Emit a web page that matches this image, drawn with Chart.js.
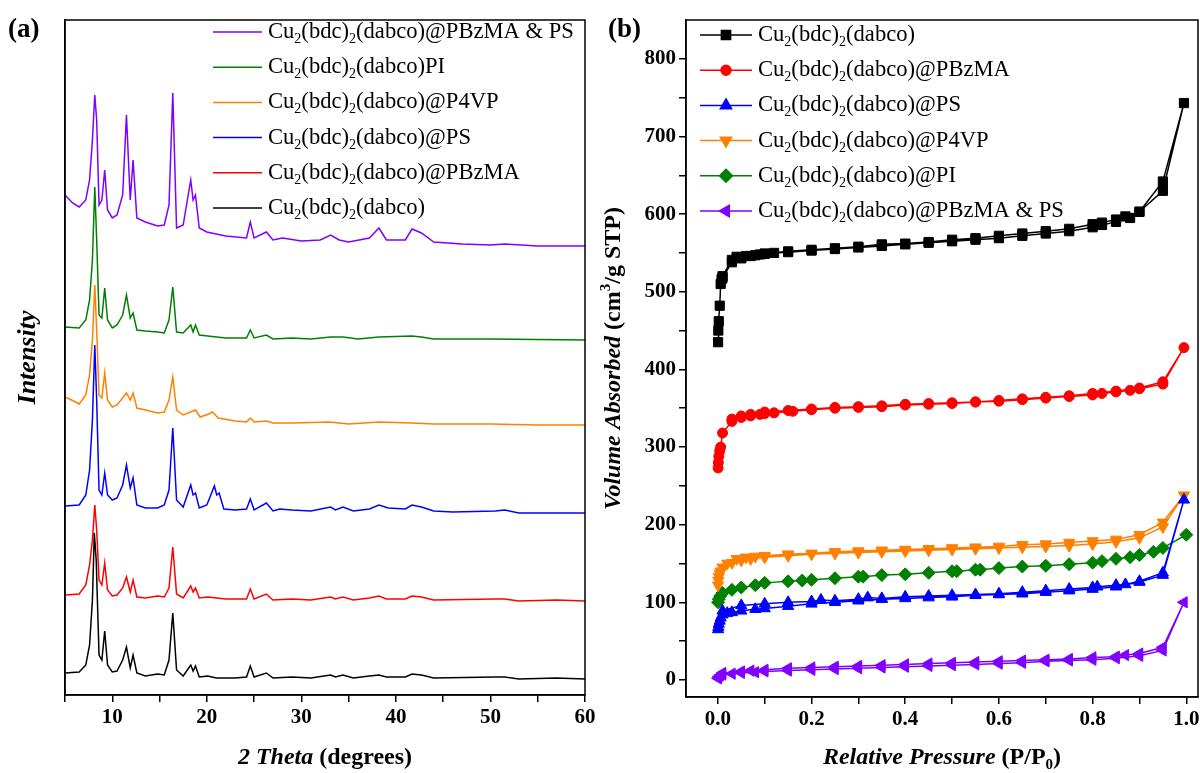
<!DOCTYPE html>
<html>
<head>
<meta charset="utf-8">
<script src="https://cdn.jsdelivr.net/npm/chart.js@4.4.1/dist/chart.umd.min.js"></script>
<style>
    body { margin: 0; background: #fff; }
    #wrap { position: relative; width: 1200px; height: 773px; }
    canvas { position: absolute; top: 0; }
    #xrd { left: 0; }
    #bet { left: 600px; }
</style>
</head>
<body>
<div id="wrap">
    <canvas id="xrd" width="600" height="773"></canvas>
    <canvas id="bet" width="600" height="773"></canvas>
</div>
<script>
// ---- (a) XRD patterns, 2 theta (deg) vs intensity (a.u.) ----
var th_mof   = [5,6.5,7.2,7.6,7.9,8.1,8.3,8.6,8.9,9.2,9.5,10,10.5,11.1,11.5,11.9,12.2,12.6,13.5,14.8,15.5,16,16.4,16.8,17.5,18.3,18.55,18.8,19.2,20.1,21,23,24.2,24.6,25,26.3,27,29,31,33.1,33.6,34.4,35.5,37.2,38.2,39,41,41.7,42.7,44,50.5,51.5,53,57,60];
var int_mof  = [6,7,14,34,79,146,119,24,19,48,14,7,8,19,32,11,24,6,3,5,4,19,66,9,3,14,8,13,2,3,1,1,2,13,2,6,1,2,1,4,2,4,1,3,4,2,2,5,4,1,2,2,0,1,0];
var th_pbz   = [5,6.5,7.2,7.6,7.9,8.15,8.35,8.6,8.9,9.2,9.5,10,10.5,11.1,11.5,11.9,12.2,12.6,13.5,14.8,15.5,16,16.4,16.8,17.5,18.3,18.55,18.8,19.2,20.1,22,24.2,24.6,25,26.3,27,29,31,33.1,33.6,34.4,35.5,37.2,38.2,39,41,41.7,42.7,44,50.5,51.5,53,57,60];
var int_pbz  = [6,7,16,36,61,96,71,21,16,38,11,5,6,13,24,9,21,4,3,5,4,13,54,7,3,15,9,13,3,4,2,2,12,2,7,1,2,1,4,2,4,1,3,5,2,2,5,4,1,2,2,0,1,0];
var th_ps    = [5,6.5,7.2,7.6,7.9,8.15,8.35,8.6,8.9,9.2,9.5,10,10.5,11.1,11.5,11.9,12.2,12.6,13.5,14.8,15.5,16,16.4,16.8,17.5,18.3,18.55,18.8,19.2,20,20.8,21.05,21.3,21.8,23,24.2,24.6,25,26.3,27,27.7,29,31,33.1,33.6,34.4,35.5,37.2,38.2,39.2,41,41.7,42.7,44,46,50.5,51.5,53,57,60];
var int_ps   = [7,8,18,43,93,168,113,23,18,40,18,13,15,28,48,25,35,8,5,5,8,23,85,13,6,28,18,20,5,8,27,18,20,4,3,4,14,3,10,2,4,3,2,6,3,6,2,4,8,5,4,8,6,2,1,2,3,0,0,0];
var th_p4vp  = [5,5.7,6.5,7.2,7.6,7.9,8.15,8.35,8.6,8.9,9.2,9.5,10,10.5,11.1,11.5,11.9,12.2,12.6,13.5,14.8,15.5,16,16.4,16.8,17.5,18.3,18.8,19.3,20.2,20.6,21.2,23,24.2,24.6,25,26.3,27,29,33,35,38.2,41.7,44,50,55,60];
var int_p4vp = [28,25,21,30,50,85,140,95,30,27,52,25,18,20,27,32,25,32,17,15,12,13,25,48,15,10,13,15,8,11,13,7,4,3,7,3,4,2,2,3,1,3,2,1,1,0,0];
var th_pi    = [5,6.5,7.2,7.6,7.9,8.15,8.35,8.6,8.9,9.2,9.5,10,10.5,11.1,11.5,11.9,12.2,12.6,13.5,14.8,15.5,16,16.4,16.8,17.5,18.3,18.55,18.8,19.2,20.1,22,24.2,24.6,25,26.3,27,29,31,33.1,34.4,36,38.2,41.7,42.7,44,50,60];
var int_pi   = [13,12,20,40,80,153,100,25,22,52,20,12,15,25,45,22,27,10,9,8,7,20,53,8,7,15,8,15,5,4,2,2,10,2,5,1,2,1,3,3,1,3,4,3,1,1,0];
var th_mix   = [5,5.8,6.5,7.2,7.6,7.9,8.15,8.35,8.6,8.9,9.2,9.5,10,10.5,11.1,11.5,11.9,12.2,12.6,13.5,14.8,15.5,16,16.4,16.8,17.5,18.3,18.55,18.8,19.2,20,21,22,24.2,24.6,25,26.3,27,28,30,32,33.1,34,35,37.2,38.2,39,41,41.7,42.7,44,47,50,51.5,55,60];
var int_mix  = [51,43,39,46,66,106,151,126,41,46,76,36,28,31,51,131,46,86,28,24,20,21,41,153,18,21,66,46,51,18,14,12,10,8,24,8,14,6,8,5,6,11,6,4,8,18,6,6,17,13,4,2,1,2,0,0];
// vertical stacking of the patterns (a.u.)
var xrdOffsets = [16, 94, 182, 270, 355, 449];
var xrdLabels  = ['Cu2(bdc)2(dabco)', 'Cu2(bdc)2(dabco)@PBzMA', 'Cu2(bdc)2(dabco)@PS', 'Cu2(bdc)2(dabco)@P4VP', 'Cu2(bdc)2(dabco)PI', 'Cu2(bdc)2(dabco)@PBzMA & PS'];
var xrdColors  = ['#000000', '#ff0000', '#0000ff', '#ff8000', '#008000', '#8000ff'];
var xrdTicks   = [5,10,15,20,25,30,35,40,45,50,55,60];

// ---- (b) N2 isotherms, adsorption then desorption, P/P0 vs cm3/g STP ----
var p_mof  = [0.0005,0.001,0.002,0.004,0.006,0.008,0.01,0.03,0.05,0.07,0.09,0.1,0.12,0.15,0.2,0.25,0.3,0.35,0.4,0.45,0.5,0.55,0.6,0.65,0.7,0.75,0.8,0.82,0.85,0.88,0.9,0.95,0.995,0.95,0.9,0.87,0.85,0.82,0.8,0.75,0.7,0.65,0.6,0.55,0.5,0.45,0.4,0.35,0.3,0.25,0.2,0.15,0.1,0.08,0.06,0.04,0.03,0.01];
var v_mof  = [435,450,462,482,510,516,518,538,543,546,548,549,550,551,553,555,557,559,561,563,565,567,569,572,575,578,583,586,590,595,603,630,743,642,603,597,593,589,587,581,578,575,572,569,567,564,562,561,558,556,554,552,549,547,546,545,541,520];
var p_pbz  = [0.0005,0.001,0.002,0.004,0.006,0.01,0.03,0.05,0.07,0.09,0.1,0.12,0.16,0.2,0.25,0.3,0.35,0.4,0.45,0.5,0.55,0.6,0.65,0.7,0.75,0.8,0.82,0.85,0.88,0.9,0.95,0.995,0.95,0.9,0.85,0.8,0.75,0.7,0.65,0.6,0.55,0.5,0.45,0.4,0.35,0.3,0.25,0.2,0.15,0.1,0.07,0.05,0.03];
var v_pbz  = [273,280,288,295,300,318,333,338,340,342,343,344,346,348,350,351,352,354,355,356,358,359,361,363,365,367,369,371,373,375,381,428,384,376,372,369,366,364,362,360,358,357,356,355,353,352,351,349,347,345,342,340,336];
var p_ps   = [0.0005,0.001,0.002,0.004,0.006,0.01,0.02,0.03,0.05,0.08,0.1,0.15,0.2,0.25,0.3,0.35,0.4,0.45,0.5,0.55,0.6,0.65,0.7,0.75,0.8,0.85,0.9,0.95,0.995,0.95,0.9,0.87,0.85,0.81,0.8,0.75,0.7,0.65,0.6,0.55,0.5,0.45,0.4,0.35,0.32,0.3,0.25,0.22,0.2,0.15,0.1,0.05,0.01];
var v_ps   = [65,68,72,76,80,84,86,87,89,91,92,95,98,100,102,104,105,106,107,109,110,111,113,115,117,120,126,135,232,138,127,123,122,120,119,117,115,113,111,110,109,108,107,105,106,104,102,103,101,100,98,96,89];
var p_p4vp = [0.0005,0.001,0.002,0.004,0.006,0.01,0.03,0.05,0.07,0.1,0.15,0.2,0.25,0.3,0.35,0.4,0.45,0.5,0.55,0.6,0.65,0.7,0.75,0.8,0.85,0.9,0.95,0.995,0.95,0.9,0.85,0.8,0.75,0.7,0.65,0.6,0.55,0.5,0.45,0.4,0.35,0.3,0.25,0.2,0.15,0.1,0.08,0.06,0.04,0.02];
var v_p4vp = [122,128,133,137,140,145,151,154,156,158,160,162,163,164,165,166,167,168,169,170,171,172,173,175,178,183,197,238,203,187,181,179,177,175,174,172,171,170,169,168,167,166,165,163,162,160,159,158,156,150];
var p_pi   = [0.0005,0.002,0.005,0.01,0.03,0.05,0.08,0.1,0.15,0.18,0.2,0.25,0.3,0.31,0.35,0.4,0.45,0.5,0.51,0.55,0.56,0.6,0.65,0.7,0.75,0.8,0.82,0.85,0.88,0.9,0.93,0.95,1.0];
var v_pi   = [100,104,108,112,116,119,122,125,127,128,129,131,133,133,135,136,138,140,140,142,142,144,146,147,149,151,153,156,158,161,165,170,187];
var p_mix  = [0.0005,0.002,0.005,0.01,0.03,0.05,0.08,0.1,0.15,0.2,0.25,0.3,0.35,0.4,0.45,0.5,0.55,0.6,0.65,0.7,0.75,0.8,0.85,0.9,0.95,0.995,0.95,0.9,0.87,0.85,0.8,0.75,0.7,0.65,0.6,0.55,0.5,0.45,0.4,0.35,0.3,0.25,0.2,0.15,0.1,0.07,0.05,0.01];
var v_mix  = [2,4,6,7,8,9,10,11,12,13,14,15,16,17,18,19,20,21,22,24,25,26,28,31,38,100,42,34,32,30,29,27,26,25,24,23,22,21,20,19,18,17,16,15,13,12,11,9];
var isoLabels = ['Cu2(bdc)2(dabco)', 'Cu2(bdc)2(dabco)@PBzMA', 'Cu2(bdc)2(dabco)@PS', 'Cu2(bdc)2(dabco)@P4VP', 'Cu2(bdc)2(dabco)@PI', 'Cu2(bdc)2(dabco)@PBzMA & PS'];
var isoColors = ['#000000', '#ff0000', '#0000ff', '#ff8000', '#008000', '#8000ff'];
var isoShapes = ['rect', 'circle', 'triangle', 'triangle', 'rectRot', 'triangle'];
var isoRotate = [0, 0, 0, 180, 0, -90];
var isoXTicks = [0,0.1,0.2,0.3,0.4,0.5,0.6,0.7,0.8,0.9,1.0];
var isoYTicks = [0,50,100,150,200,250,300,350,400,450,500,550,600,650,700,750,800];

var SERIF = "'Liberation Serif', 'Times New Roman', serif";

function font(style, size) {
    return style + ' ' + size + 'px ' + SERIF;
}

// split "Cu2(bdc)2(dabco)" into runs with the 2s lowered
function labelParts(label, size) {
    var parts = [], buf = '';
    for (var i = 0; i < label.length; i++) {
        var c = label[i], prev = label[i - 1];
        if (c === '2' && (prev === 'u' || prev === ')')) {
            if (buf) parts.push([buf, font('normal', size), 0]);
            buf = '';
            parts.push(['2', font('normal', Math.round(size * 0.62)), size * 0.32]);
        } else {
            buf += c;
        }
    }
    if (buf) parts.push([buf, font('normal', size), 0]);
    return parts;
}

function drawParts(ctx, parts, x, y, center) {
    var w = 0;
    parts.forEach(function (p) { ctx.font = p[1]; w += ctx.measureText(p[0]).width; });
    var cx = center ? x - w / 2 : x;
    parts.forEach(function (p) {
        ctx.font = p[1];
        ctx.fillText(p[0], cx, y + p[2]);
        cx += ctx.measureText(p[0]).width;
    });
}

function pairs(xs, ys, off) {
    return xs.map(function (x, i) { return { x: x, y: ys[i] + (off || 0) }; });
}

// frame + titles + legend, drawn on top of the chart
function decorPlugin(cfg) {
    return {
        id: 'decor',
        afterDraw: function (chart) {
            var ctx = chart.ctx, a = chart.chartArea;
            ctx.save();
            ctx.strokeStyle = '#000';
            ctx.lineWidth = 1.5;
            ctx.strokeRect(a.left, a.top, a.right - a.left, a.bottom - a.top);
            ctx.fillStyle = '#000';
            ctx.textBaseline = 'middle';
            ctx.font = font('bold', 27);
            ctx.fillText(cfg.panel, 8, 30);
            drawParts(ctx, cfg.xTitle, (a.left + a.right) / 2, 758, true);
            ctx.save();
            ctx.translate(cfg.yTitleX, (a.top + a.bottom) / 2);
            ctx.rotate(-Math.PI / 2);
            drawParts(ctx, cfg.yTitle, 0, 0, true);
            ctx.restore();
            var lg = cfg.legend;
            lg.items.forEach(function (it, i) {
                var y = lg.y0 + i * lg.dy;
                ctx.strokeStyle = it.color;
                ctx.fillStyle = it.color;
                ctx.lineWidth = 1.5;
                ctx.beginPath();
                ctx.moveTo(lg.x, y);
                ctx.lineTo(lg.x + lg.len, y);
                ctx.stroke();
                if (it.shape) {
                    Chart.helpers.drawPoint(ctx, { pointStyle: it.shape, rotation: it.rot, radius: it.radius, borderWidth: 1 }, lg.x + lg.len / 2, y);
                }
                ctx.fillStyle = '#000';
                drawParts(ctx, labelParts(it.label, lg.size), lg.x + lg.len + 6, y, false);
            });
            ctx.restore();
        }
    };
}

var tickFont = { family: SERIF, size: 21, weight: 'bold' };

function noSidePad(s) {
    s.paddingLeft = 0;
    s.paddingRight = 0;
}

// ---------------- (a) ----------------
var xrdSets = [
    [th_mof, int_mof], [th_pbz, int_pbz], [th_ps, int_ps],
    [th_p4vp, int_p4vp], [th_pi, int_pi], [th_mix, int_mix]
].map(function (s, i) {
    return {
        label: xrdLabels[i],
        data: pairs(s[0], s[1], xrdOffsets[i]),
        borderColor: xrdColors[i],
        borderWidth: 1.5,
        pointRadius: 0,
        showLine: true,
        tension: 0
    };
});

var legendA = [5, 4, 3, 2, 1, 0].map(function (i) {
    return { label: xrdLabels[i], color: xrdColors[i] };
});

new Chart(document.getElementById('xrd').getContext('2d'), {
    type: 'scatter',
    data: { datasets: xrdSets },
    options: {
        responsive: false,
        animation: false,
        layout: { autoPadding: false, padding: { top: 20, right: 15, left: 0, bottom: 0 } },
        plugins: { legend: { display: false }, tooltip: { enabled: false } },
        scales: {
            x: {
                type: 'linear', min: 5, max: 60,
                afterBuildTicks: function (s) { s.ticks = xrdTicks.map(function (v) { return { value: v }; }); },
                afterFit: function (s) { s.height = 78; noSidePad(s); },
                ticks: {
                    autoSkip: false, maxRotation: 0, color: '#000', font: tickFont, padding: 3,
                    callback: function (v) { return v % 10 === 0 ? v : ''; }
                },
                grid: { drawOnChartArea: false, tickLength: 7, color: '#000', lineWidth: 1.5 },
                border: { color: '#000', width: 1.5 }
            },
            y: {
                type: 'linear', min: 0, max: 675,
                afterFit: function (s) { s.width = 65; },
                ticks: { display: false },
                grid: { display: false },
                border: { color: '#000', width: 1.5 }
            }
        }
    },
    plugins: [decorPlugin({
        panel: '(a)',
        xTitle: [['2 Theta', font('italic bold', 24), 0], [' (degrees)', font('bold', 24), 0]],
        yTitle: [['Intensity', font('italic bold', 26), 0]],
        yTitleX: 28,
        legend: { items: legendA, x: 213, len: 49, y0: 32, dy: 35.2, size: 22.6 }
    })]
});

// ---------------- (b) ----------------
var isoSets = [
    [p_mof, v_mof], [p_pbz, v_pbz], [p_ps, v_ps],
    [p_p4vp, v_p4vp], [p_pi, v_pi], [p_mix, v_mix]
].map(function (s, i) {
    return {
        label: isoLabels[i],
        data: pairs(s[0], s[1], 0),
        borderColor: isoColors[i],
        backgroundColor: isoColors[i],
        borderWidth: 1.5,
        showLine: true,
        tension: 0,
        pointStyle: isoShapes[i],
        rotation: isoRotate[i],
        pointRadius: isoShapes[i] === 'circle' ? 5 : 6.5,
        pointBorderWidth: 1
    };
});

var legendB = isoLabels.map(function (l, i) {
    return { label: l, color: isoColors[i], shape: isoShapes[i], rot: isoRotate[i], radius: isoShapes[i] === 'circle' ? 5 : 6.5 };
});

new Chart(document.getElementById('bet').getContext('2d'), {
    type: 'scatter',
    data: { datasets: isoSets },
    options: {
        responsive: false,
        animation: false,
        layout: { autoPadding: false, padding: { top: 20, right: 2, left: 0, bottom: 0 } },
        plugins: { legend: { display: false }, tooltip: { enabled: false } },
        scales: {
            x: {
                type: 'linear', min: -0.068, max: 1.025,
                afterBuildTicks: function (s) { s.ticks = isoXTicks.map(function (v) { return { value: v }; }); },
                afterFit: function (s) { s.height = 76; noSidePad(s); },
                ticks: {
                    autoSkip: false, maxRotation: 0, color: '#000', font: tickFont, padding: 3,
                    callback: function (v) { return Math.round(v * 10) % 2 === 0 ? v.toFixed(1) : ''; }
                },
                grid: { drawOnChartArea: false, tickLength: 7, color: '#000', lineWidth: 1.5 },
                border: { color: '#000', width: 1.5 }
            },
            y: {
                type: 'linear', min: -22, max: 850,
                afterBuildTicks: function (s) { s.ticks = isoYTicks.map(function (v) { return { value: v }; }); },
                afterFit: function (s) { s.width = 86; },
                ticks: {
                    autoSkip: false, color: '#000', font: tickFont, padding: 3,
                    callback: function (v) { return v % 100 === 0 ? v : ''; }
                },
                grid: { drawOnChartArea: false, tickLength: 7, color: '#000', lineWidth: 1.5 },
                border: { color: '#000', width: 1.5 }
            }
        }
    },
    plugins: [decorPlugin({
        panel: '(b)',
        xTitle: [['Relative Pressure', font('italic bold', 24), 0], [' (P/P', font('bold', 24), 0], ['0', font('bold', 15), 7], [')', font('bold', 24), 0]],
        yTitle: [['Volume Absorbed', font('italic bold', 24), 0], [' (cm', font('bold', 24), 0], ['3', font('bold', 15), -8], ['/g STP)', font('bold', 24), 0]],
        yTitleX: 14,
        legend: { items: legendB, x: 100, len: 52, y0: 35, dy: 35.2, size: 22.6 }
    })]
});
</script>
</body>
</html>
